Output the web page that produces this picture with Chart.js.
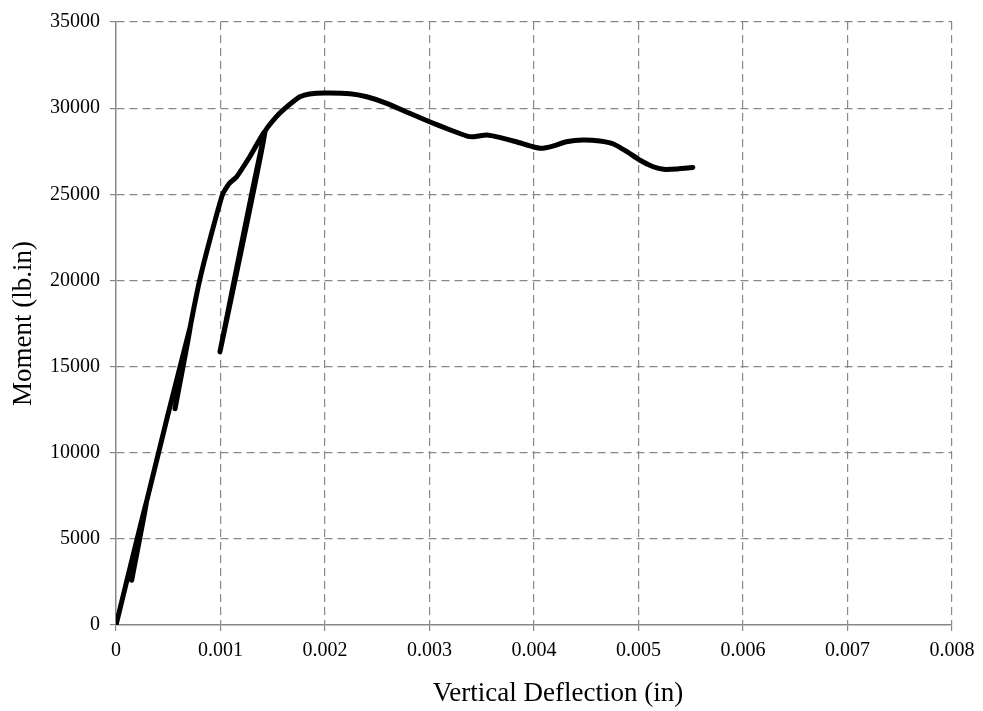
<!DOCTYPE html>
<html>
<head>
<meta charset="utf-8">
<script src="https://cdn.jsdelivr.net/npm/chart.js@4"></script>
<style>
    html, body { margin: 0; padding: 0; background: #fff; }
    #wrap { width: 983px; height: 711px; }
</style>
</head>
<body>
<div id="wrap"><canvas id="momentChart" width="983" height="711"></canvas></div>
<script>
// deflection (in) and moment (lb.in) in drawing order
const deflection = [
    0, 0.00029, 0.00015, 0.00029, 0.00071, 0.000565, 0.00071,
    0.0008, 0.0009, 0.00102, 0.00108, 0.001155, 0.00128, 0.001426,
    0.000995, 0.001426, 0.00154, 0.00162, 0.0017, 0.00176, 0.00185,
    0.002, 0.00224, 0.0024, 0.00259, 0.00281, 0.003, 0.0032, 0.00336,
    0.00342, 0.00355, 0.00367, 0.00383, 0.00399, 0.00407, 0.00418,
    0.00431, 0.00447, 0.00463, 0.00476, 0.00489, 0.00501, 0.00514,
    0.00524, 0.00537, 0.00552
];

const moment = [
    0, 7100, 2600, 7100, 17300, 12550, 17300,
    20000, 22400, 25000, 25600, 26020, 27180, 28630,
    15860, 28630, 29540, 30000, 30400, 30660, 30820,
    30880, 30840, 30660, 30280, 29700, 29210, 28730, 28380,
    28340, 28440, 28300, 28050, 27760, 27670, 27800,
    28050, 28150, 28090, 27920, 27470, 26990, 26600,
    26450, 26470, 26560
];

const xTicks = [0, 0.001, 0.002, 0.003, 0.004, 0.005, 0.006, 0.007, 0.008];
const yTicks = [0, 5000, 10000, 15000, 20000, 25000, 30000, 35000];

const xTitle = "Vertical Deflection (in)";
const yTitle = "Moment (lb.in)";

const points = deflection.map((x, i) => ({ x: x, y: moment[i] }));

const serif = "'Liberation Serif', 'Times New Roman', serif";
const gridGray = "#888888";

// the zero line is the solid axis, so leave its grid line out
const gridColor = (ctx) =>
    ctx.tick && ctx.tick.value === 0 ? "rgba(0,0,0,0)" : gridGray;

// x title sits a little right of centre in the original
const xTitlePlugin = {
    id: "xTitle",
    afterDraw(chart) {
        const ctx = chart.ctx;
        ctx.save();
        ctx.font = "27px " + serif;
        ctx.fillStyle = "#000";
        ctx.textAlign = "center";
        ctx.textBaseline = "middle";
        ctx.fillText(xTitle, 558, 694);
        ctx.restore();
    }
};

new Chart(
    document.getElementById("momentChart"),
    {
        type: "scatter",

        data: {
            datasets: [{
                data: points,
                showLine: true,
                borderColor: "#000",
                borderWidth: 5,
                borderCapStyle: "round",
                borderJoinStyle: "round",
                pointRadius: 0,
                tension: 0.15
            }]
        },

        options: {
            responsive: false,
            animation: false,
            layout: {
                padding: { left: 0, right: 31, top: 22, bottom: 0 }
            },
            plugins: {
                legend: { display: false },
                tooltip: { enabled: false }
            },
            scales: {
                x: {
                    type: "linear",
                    min: 0,
                    max: 0.008,
                    afterBuildTicks: (scale) => {
                        scale.ticks = xTicks.map(v => ({ value: v }));
                    },
                    afterFit: (scale) => { scale.height = 86; },
                    ticks: {
                        color: "#000",
                        padding: 8,
                        font: { family: serif, size: 20 },
                        callback: (v) => v === 0 ? "0" : (+v).toFixed(3)
                    },
                    grid: {
                        color: gridColor,
                        tickColor: gridGray,
                        lineWidth: 1.2,
                        tickLength: 6
                    },
                    border: {
                        color: gridGray,
                        width: 1.5,
                        dash: [8, 5]
                    }
                },
                y: {
                    type: "linear",
                    min: 0,
                    max: 35000,
                    afterBuildTicks: (scale) => {
                        scale.ticks = yTicks.map(v => ({ value: v }));
                    },
                    afterFit: (scale) => { scale.width = 116; },
                    ticks: {
                        color: "#000",
                        padding: 10,
                        font: { family: serif, size: 20 },
                        callback: (v) => String(v)
                    },
                    grid: {
                        color: gridColor,
                        tickColor: gridGray,
                        lineWidth: 1.2,
                        tickLength: 6
                    },
                    border: {
                        color: gridGray,
                        width: 1.5,
                        dash: [8, 5]
                    },
                    title: {
                        display: true,
                        text: yTitle,
                        color: "#000",
                        padding: { top: 8, bottom: 0 },
                        font: { family: serif, size: 27 }
                    }
                }
            }
        },

        plugins: [xTitlePlugin]
    }
);
</script>
</body>
</html>
